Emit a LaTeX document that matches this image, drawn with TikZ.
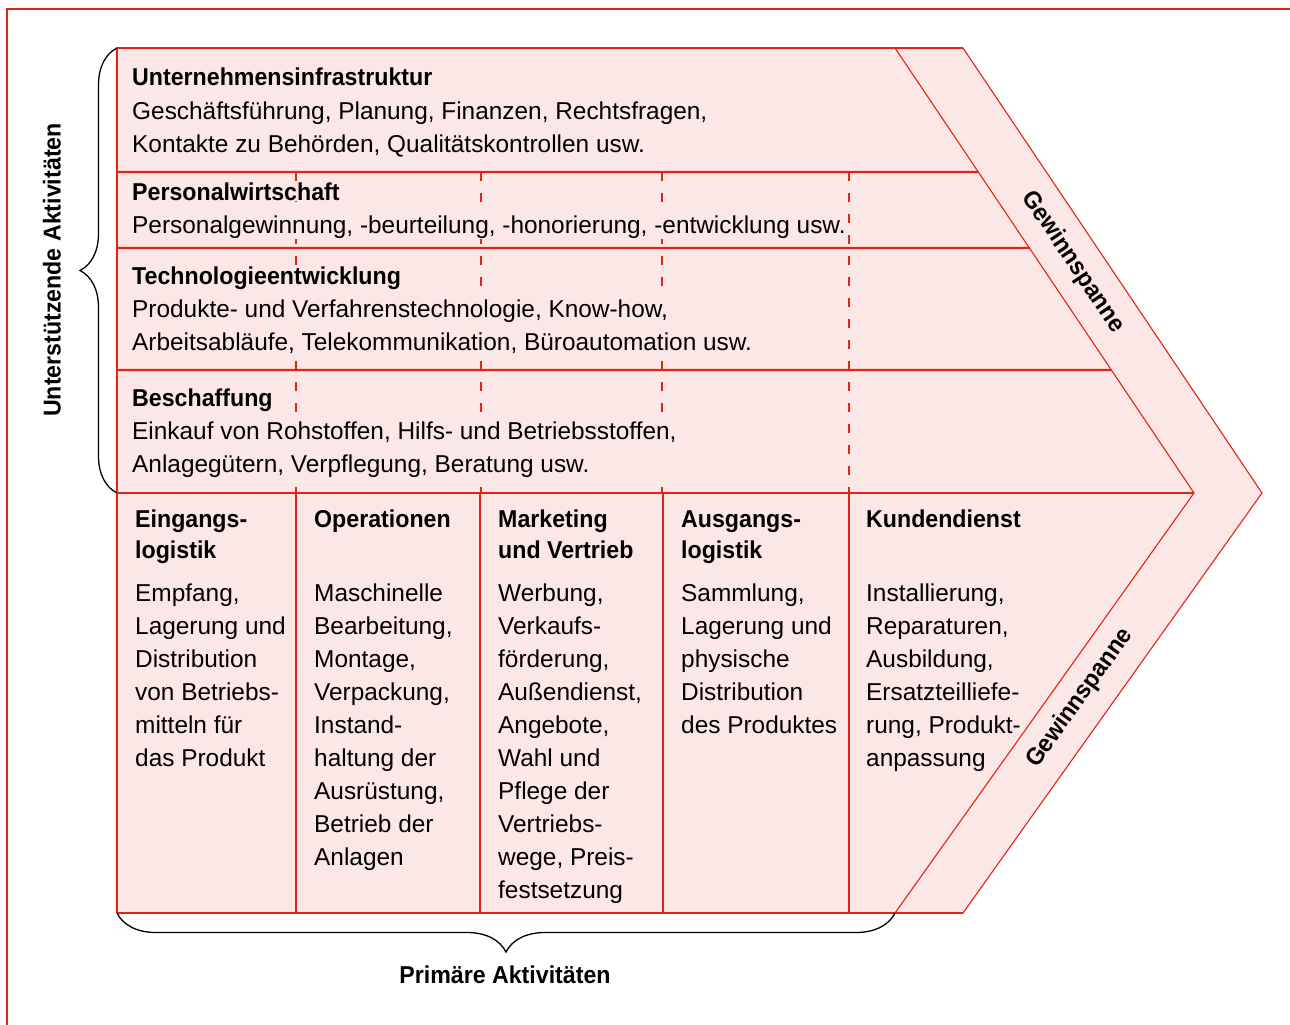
\documentclass[tikz,border=0pt]{standalone}
\usepackage{fontspec}
\setmainfont{Liberation Sans}[BoldFeatures={FakeStretch=0.95}]
\usetikzlibrary{calc, decorations.pathreplacing}
\definecolor{vcred}{RGB}{226,35,26}
\definecolor{vcpink}{RGB}{252,231,231}
\newcommand{\vcbody}{\fontsize{24.4}{33}\selectfont}
\newcommand{\vchead}{\fontsize{24.4}{31}\selectfont\bfseries}

\begin{document}
\begin{tikzpicture}[x=1pt, y=-1pt,
        redline/.style={draw=vcred, line width=2.4pt},
        thinred/.style={draw=vcred, line width=1.1pt},
        dashline/.style={draw=vcred, line width=2pt, dash pattern=on 9pt off 12pt},
        head/.style={anchor=base west, inner sep=1pt, fill=vcpink, align=left, font=\vchead},
        body/.style={anchor=base west, inner sep=1pt, fill=vcpink, align=left, font=\vcbody},
        bracket/.style={draw=black, line width=1.3pt, decorate, decoration={brace, amplitude=#1}}]
        \useasboundingbox (0,0) rectangle (1290,1025);
        \draw[redline] (7,1040) -- (7,9) -- (1300,9);

        \coordinate (tl) at (117,48);
        \coordinate (in-top) at (895,48);
        \coordinate (out-top) at (963,48);
        \coordinate (in-tip) at (1194,493);
        \coordinate (out-tip) at (1262,493);
        \coordinate (in-bot) at (895,913);
        \coordinate (out-bot) at (963,913);
        \coordinate (bl) at (117,913);

        \fill[vcpink] (tl) -- (out-top) -- (out-tip) -- (out-bot) -- (bl) -- cycle;
        \foreach \x in {296,481,662,849}
            \draw[dashline] (\x,172) -- (\x,493);

        % unterstuetzende Aktivitaeten (base = letzte Zeile)
        \node[head] (infra-h) at (131,85) {Unternehmensinfrastruktur};
        \node[body] (infra-b) at (131,152) {Geschäftsführung, Planung, Finanzen, Rechtsfragen,\\
            Kontakte zu Behörden, Qualitätskontrollen usw.};
        \node[head] (pers-h) at (131,200) {Personalwirtschaft};
        \node[body] (pers-b) at (131,233) {Personalgewinnung, -beurteilung, -honorierung, -entwicklung usw.};
        \node[head] (tech-h) at (131,284) {Technologieentwicklung};
        \node[body] (tech-b) at (131,350) {Produkte- und Verfahrenstechnologie, Know-how,\\
            Arbeitsabläufe, Telekommunikation, Büroautomation usw.};
        \node[head] (besch-h) at (131,406) {Beschaffung};
        \node[body] (besch-b) at (131,472) {Einkauf von Rohstoffen, Hilfs- und Betriebsstoffen,\\
            Anlagegütern, Verpflegung, Beratung usw.};

        % primaere Aktivitaeten
        \node[head] (eing-h) at (134,558) {Eingangs-\\logistik};
        \node[body] (eing-b) at (134,766) {Empfang,\\Lagerung und\\Distribution\\von Betriebs-\\mitteln für\\das Produkt};
        \node[head] (oper-h) at (313,527) {Operationen};
        \node[body] (oper-b) at (313,865) {Maschinelle\\Bearbeitung,\\Montage,\\Verpackung,\\Instand-\\haltung der\\Ausrüstung,\\Betrieb der\\Anlagen};
        \node[head] (mark-h) at (497,558) {Marketing\\und Vertrieb};
        \node[body] (mark-b) at (497,898) {Werbung,\\Verkaufs-\\förderung,\\Außendienst,\\Angebote,\\Wahl und\\Pflege der\\Vertriebs-\\wege, Preis-\\festsetzung};
        \node[head] (ausg-h) at (680,558) {Ausgangs-\\logistik};
        \node[body] (ausg-b) at (680,733) {Sammlung,\\Lagerung und\\physische\\Distribution\\des Produktes};
        \node[head] (kund-h) at (865,527) {Kundendienst};
        \node[body] (kund-b) at (865,766) {Installierung,\\Reparaturen,\\Ausbildung,\\Ersatzteilliefe-\\rung, Produkt-\\anpassung};

        % Linien
        \foreach \y in {172,248,370}
            \draw[redline] (117,\y) -- ($(in-top)!{(\y-48)/445}!(in-tip)$);
        \draw[redline] (117,493) -- (in-tip);
        \foreach \x in {296,480,663,849}
            \draw[redline] (\x,493) -- (\x,913);
        \draw[redline] (bl) -- (tl) -- (out-top);
        \draw[thinred] (bl) -- (out-bot);
        \draw[thinred] (in-top) -- (in-tip) -- (in-bot);
        \draw[thinred] (out-top) -- (out-tip) -- (out-bot);

        % Gewinnspanne
        \node[head, fill=none, anchor=center, rotate=-56.1] (gew-o) at (1073,262) {Gewinnspanne};
        \node[head, fill=none, anchor=center, rotate=54.5] (gew-u) at (1080,698) {Gewinnspanne};

        % Klammern
        \draw[bracket=37pt] (117,493) -- (117,48);
        \node[head, fill=none, anchor=center, rotate=90] (unterst) at (52,270) {Unterstützende Aktivitäten};
        \draw[bracket=39pt] (895,913) -- (117,913);
        \node[head, fill=none, anchor=center] (primaer) at (505,975) {Primäre Aktivitäten};
\end{tikzpicture}
\end{document}
